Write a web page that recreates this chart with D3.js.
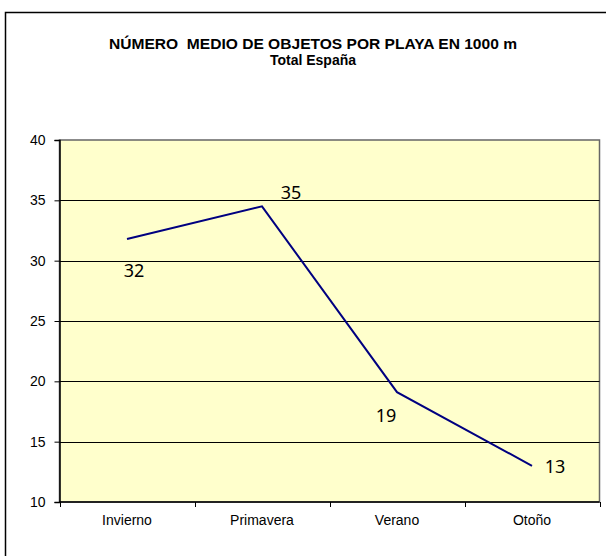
<!DOCTYPE html>
<html>
<head>
<meta charset="utf-8">
<script src="https://cdn.jsdelivr.net/npm/d3@7"></script>
<style>
  body { margin: 0; background: #fff; }
  svg { display: block; }
</style>
</head>
<body>
<div id="chart"></div>
<script>
// data
const seasons = ["Invierno", "Primavera", "Verano", "Otoño"];
const objetos = [31.8, 34.5, 19.1, 13.0];
const yTicks = [10, 15, 20, 25, 30, 35, 40];
const titleLines = ["NÚMERO  MEDIO DE OBJETOS POR PLAYA EN 1000 m", "Total España"];

const width = 606, height = 556;
const plot = { left: 59.5, right: 599.5, top: 140, bottom: 502 };

const svg = d3.select("#chart").append("svg")
  .attr("width", width)
  .attr("height", height);

// outer chart frame (runs off the right / bottom edge)
svg.append("rect")
  .attr("x", 5.5).attr("y", 12.5)
  .attr("width", 640).attr("height", 600)
  .attr("fill", "#fff")
  .attr("stroke", "#000")
  .attr("stroke-width", 1.5);

// title
svg.append("text")
  .attr("x", 313).attr("y", 49)
  .attr("text-anchor", "middle")
  .attr("textLength", 408)
  .attr("lengthAdjust", "spacingAndGlyphs")
  .style("font", "bold 15px 'Liberation Sans', Arial, sans-serif")
  .style("white-space", "pre")
  .text(titleLines[0]);
svg.append("text")
  .attr("x", 313).attr("y", 65)
  .attr("text-anchor", "middle")
  .style("font", "bold 14px 'Liberation Sans', Arial, sans-serif")
  .text(titleLines[1]);

let x = d3.scaleBand()
  .domain(seasons)
  .range([plot.left, plot.right]);

let y = d3.scaleLinear()
  .domain([10, 40])
  .range([plot.bottom, plot.top]);

// plot area
svg.append("rect")
  .attr("x", plot.left).attr("y", plot.top)
  .attr("width", plot.right - plot.left)
  .attr("height", plot.bottom - plot.top)
  .attr("fill", "#ffffcc")
  .attr("stroke", "#666")
  .attr("stroke-width", 1.5);

// gridlines
svg.append("g")
  .selectAll("line")
  .data(yTicks.slice(1, -1))
  .enter()
  .append("line")
  .attr("x1", plot.left).attr("x2", plot.right)
  .attr("y1", (d) => Math.round(y(d)) + 0.5)
  .attr("y2", (d) => Math.round(y(d)) + 0.5)
  .attr("stroke", "#000")
  .attr("stroke-width", 1);

// y axis
let yAxis = svg.append("g")
  .attr("transform", "translate(" + plot.left + ",0)")
  .call(d3.axisLeft(y).tickValues(yTicks).tickSize(5).tickPadding(9));
yAxis.select(".domain").attr("stroke", "#000").attr("stroke-width", 1.5);
yAxis.selectAll("text")
  .style("font", "14px 'Liberation Sans', Arial, sans-serif")
  .attr("fill", "#000");

// x axis, ticks sit between categories
let xAxis = svg.append("g")
  .attr("transform", "translate(0," + plot.bottom + ")");
xAxis.append("line")
  .attr("x1", plot.left).attr("x2", plot.right)
  .attr("stroke", "#000").attr("stroke-width", 1.5);
xAxis.selectAll("line.tick")
  .data(seasons.concat(["end"]))
  .enter()
  .append("line")
  .attr("class", "tick")
  .attr("x1", (d, i) => Math.round(plot.left + i * x.step()) + 0.5)
  .attr("x2", (d, i) => Math.round(plot.left + i * x.step()) + 0.5)
  .attr("y1", 0).attr("y2", 5)
  .attr("stroke", "#000");
xAxis.selectAll("text")
  .data(seasons)
  .enter()
  .append("text")
  .attr("x", (d) => x(d) + x.bandwidth() / 2)
  .attr("y", 23)
  .attr("text-anchor", "middle")
  .style("font", "14px 'Liberation Sans', Arial, sans-serif")
  .text((d) => d);

// series line
let line = d3.line()
  .x((d, i) => x(seasons[i]) + x.bandwidth() / 2)
  .y((d) => y(d));

svg.append("path")
  .datum(objetos)
  .attr("d", line)
  .attr("fill", "none")
  .attr("stroke", "#000080")
  .attr("stroke-width", 2);

// data labels, nudged like the original
const labelOffsets = [[7, 38], [29, -7], [-11, 30], [23, 7]];
svg.append("g")
  .selectAll("text")
  .data(objetos)
  .enter()
  .append("text")
  .attr("x", (d, i) => x(seasons[i]) + x.bandwidth() / 2 + labelOffsets[i][0])
  .attr("y", (d, i) => y(d) + labelOffsets[i][1])
  .attr("text-anchor", "middle")
  .style("font", "18px 'Noto Sans', sans-serif")
  .attr("fill", "#000")
  .text((d) => Math.round(d));
</script>
</body>
</html>
